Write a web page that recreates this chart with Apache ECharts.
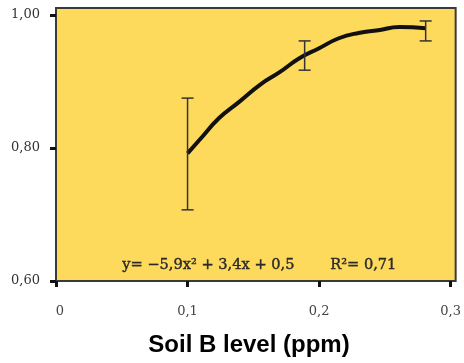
<!DOCTYPE html>
<html>
<head>
<meta charset="utf-8">
<script src="https://cdn.jsdelivr.net/npm/echarts@6/dist/echarts.min.js"></script>
<style>html,body{margin:0;padding:0;background:#fff}#c{width:464px;height:363px}</style>
</head>
<body>
<div id="c"></div>
<script>
// Fitted curve
const curveX = [0.100, 0.109, 0.124, 0.139, 0.155, 0.170, 0.185, 0.200, 0.215, 0.230, 0.245, 0.261, 0.281];
const curveY = [0.792, 0.812, 0.845, 0.869, 0.895, 0.914, 0.935, 0.950, 0.965, 0.973, 0.977, 0.982, 0.980];
// Error bars
const barX = [0.100, 0.189, 0.281];
const barLow = [0.707, 0.917, 0.961];
const barHigh = [0.875, 0.961, 0.991];
// Ticks
const xTicks = [0, 0.1, 0.2, 0.3];
const yTicks = [0.6, 0.8, 1.0];
const equationText = 'y= −5,9x² + 3,4x + 0,5';
const r2Text = 'R²= 0,71';
const xTitle = 'Soil B level (ppm)';

const chart = echarts.init(document.getElementById('c'), null, {renderer: 'canvas'});
const fmt = (v, d) => v === 0 ? '{z|0}' : v.toFixed(d).replace('.', ',');
chart.setOption({
  animation: false,
  grid: {
    left: 56, right: 7, top: 8, bottom: 82,
    show: true, backgroundColor: '#FDD95C', borderColor: '#3a3a3a', borderWidth: 2
  },
  xAxis: {
    type: 'value', min: 0, max: 0.30379,
    splitLine: {show: false},
    axisLine: {show: false},
    axisTick: {show: true, length: 6, lineStyle: {color: '#111', width: 3}, customValues: xTicks},
    axisLabel: {
      customValues: xTicks, margin: 24, color: '#444',
      fontFamily: 'DejaVu Serif', fontSize: 13,
      formatter: v => fmt(v, 1),
      rich: {z: {padding: [0, 0, 0, 8], color: '#444', fontFamily: 'DejaVu Serif', fontSize: 13}}
    }
  },
  yAxis: {
    type: 'value', min: 0.6, max: 1.0105,
    splitLine: {show: false},
    axisLine: {show: false},
    axisTick: {show: true, length: 6, lineStyle: {color: '#111', width: 3}, customValues: yTicks},
    axisLabel: {
      customValues: yTicks, margin: 16, color: '#333',
      fontFamily: 'DejaVu Serif', fontSize: 13,
      formatter: v => v.toFixed(2).replace('.', ',')
    }
  },
  series: [
    {
      type: 'line', smooth: true, showSymbol: false,
      data: curveX.map((x, i) => [x, curveY[i]]),
      lineStyle: {color: '#111', width: 4}, z: 3
    },
    {
      type: 'custom',
      data: barX.map((x, i) => [x, barLow[i], barHigh[i]]),
      renderItem: (params, api) => {
        const lo = api.coord([api.value(0), api.value(1)]);
        const hi = api.coord([api.value(0), api.value(2)]);
        const w = 6;
        const st = {stroke: '#333', lineWidth: 1.5};
        return {type: 'group', children: [
          {type: 'line', shape: {x1: lo[0], y1: lo[1], x2: hi[0], y2: hi[1]}, style: st},
          {type: 'line', shape: {x1: lo[0] - w, y1: lo[1], x2: lo[0] + w, y2: lo[1]}, style: st},
          {type: 'line', shape: {x1: hi[0] - w, y1: hi[1], x2: hi[0] + w, y2: hi[1]}, style: st}
        ]};
      },
      z: 4
    }
  ],
  graphic: [
    {type: 'text', left: 122, top: 258, style: {text: equationText, fill: '#2a2a2a', stroke: '#2a2a2a', lineWidth: 0.4, font: '14.6px "DejaVu Serif"'}},
    {type: 'text', left: 330, top: 258, style: {text: r2Text, fill: '#2a2a2a', stroke: '#2a2a2a', lineWidth: 0.4, font: '14.6px "DejaVu Serif"'}},
    {type: 'text', x: 249, y: 345, style: {text: xTitle, fill: '#000', font: 'bold 24px "Liberation Sans"', textAlign: 'center', textVerticalAlign: 'middle'}}
  ]
});
</script>
</body>
</html>
